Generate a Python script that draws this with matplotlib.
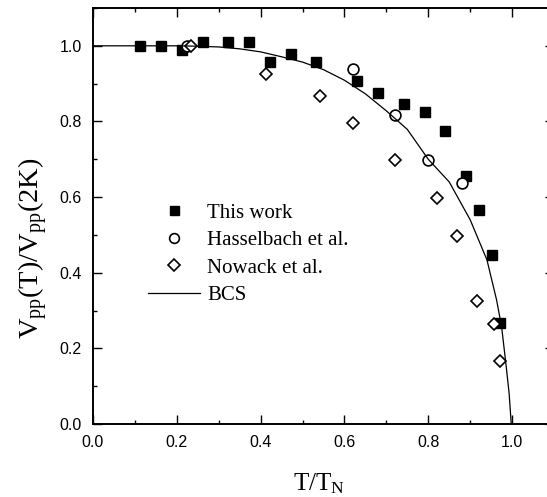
import numpy as np
import matplotlib
matplotlib.use("Agg")
import matplotlib.pyplot as plt
from matplotlib.ticker import MultipleLocator

plt.rcParams['mathtext.fontset'] = 'custom'
plt.rcParams['mathtext.rm'] = 'Liberation Serif'
plt.rcParams['mathtext.it'] = 'Liberation Serif:italic'

# data
this_t = [0.112, 0.162, 0.213, 0.263, 0.323, 0.372, 0.422, 0.472, 0.531, 0.631,
          0.680, 0.741, 0.791, 0.840, 0.890, 0.920, 0.951, 0.971]
this_v = [1.00, 1.00, 0.988, 1.009, 1.009, 1.009, 0.957, 0.978, 0.957, 0.906,
          0.875, 0.846, 0.826, 0.776, 0.656, 0.566, 0.447, 0.266]

hass_t = [0.224, 0.621, 0.721, 0.800, 0.880]
hass_v = [1.00, 0.938, 0.816, 0.697, 0.637]

nowack_t = [0.234, 0.413, 0.542, 0.621, 0.721, 0.820, 0.868, 0.917, 0.958, 0.970]
nowack_v = [1.00, 0.926, 0.866, 0.795, 0.697, 0.597, 0.496, 0.326, 0.265, 0.167]

bcs_t = [0.0, 0.10, 0.20, 0.25, 0.30, 0.35, 0.40, 0.45, 0.50, 0.55, 0.60, 0.65,
         0.70, 0.75, 0.80, 0.85, 0.90, 0.94, 0.963, 0.975, 0.986, 0.993, 0.998]
bcs_v = [1.0, 1.0, 1.0, 0.999, 0.997, 0.992, 0.984, 0.971, 0.957, 0.937, 0.909, 0.873,
         0.828, 0.779, 0.700, 0.640, 0.540, 0.434, 0.328, 0.257, 0.152, 0.08, 0.0]

fig = plt.figure(figsize=(5.47, 4.97), dpi=100)
ax = fig.add_axes([93/547, 73/497, 461/547, 416/497])

ms = 7.2
ax.plot(this_t, this_v, 's', color='black', ms=ms, label='This work')
ax.plot(hass_t, hass_v, 'o', mfc='white', mec='black', mew=1.2, ms=ms + 0.6,
        label='Hasselbach et al.')
ax.plot(nowack_t, nowack_v, 'D', mfc='white', mec='black', mew=1.2, ms=ms - 0.8,
        label='Nowack et al.')
ax.plot(bcs_t, bcs_v, '-', color='black', lw=0.9, label='BCS')

ax.set_xlim(0, 1.1)
ax.set_ylim(0, 1.1)
ax.xaxis.set_major_locator(MultipleLocator(0.2))
ax.xaxis.set_minor_locator(MultipleLocator(0.1))
ax.yaxis.set_major_locator(MultipleLocator(0.2))
ax.yaxis.set_minor_locator(MultipleLocator(0.1))
ax.tick_params(which='both', direction='in', top=True, right=True, width=1.0)
ax.tick_params(which='major', length=6.5)
ax.tick_params(which='minor', length=3)
ax.tick_params(axis='x', pad=8)
ax.tick_params(axis='y', pad=8)
for lab in ax.get_xticklabels() + ax.get_yticklabels():
    lab.set_fontfamily('Liberation Sans')
    lab.set_fontsize(11.5)
for sp in ax.spines.values():
    sp.set_linewidth(1.4)

ax.set_xlabel(r'$\mathrm{T/T_N}$', fontsize=18)
ax.xaxis.set_label_coords(0.49, -0.115)
ax.set_ylabel(r'$\mathrm{V_{pp}(T)/V_{pp}(2K)}$', fontsize=20.5)
ax.yaxis.set_label_coords(-0.094, 0.423)

leg = ax.legend(loc='upper left', bbox_to_anchor=(0.102, 0.551), frameon=False,
                prop={'family': 'Liberation Serif', 'size': 15},
                handlelength=2.5, handletextpad=0.33, labelspacing=0.38,
                borderaxespad=0, markerscale=0.9)

fig.savefig('out.png', dpi=100)
